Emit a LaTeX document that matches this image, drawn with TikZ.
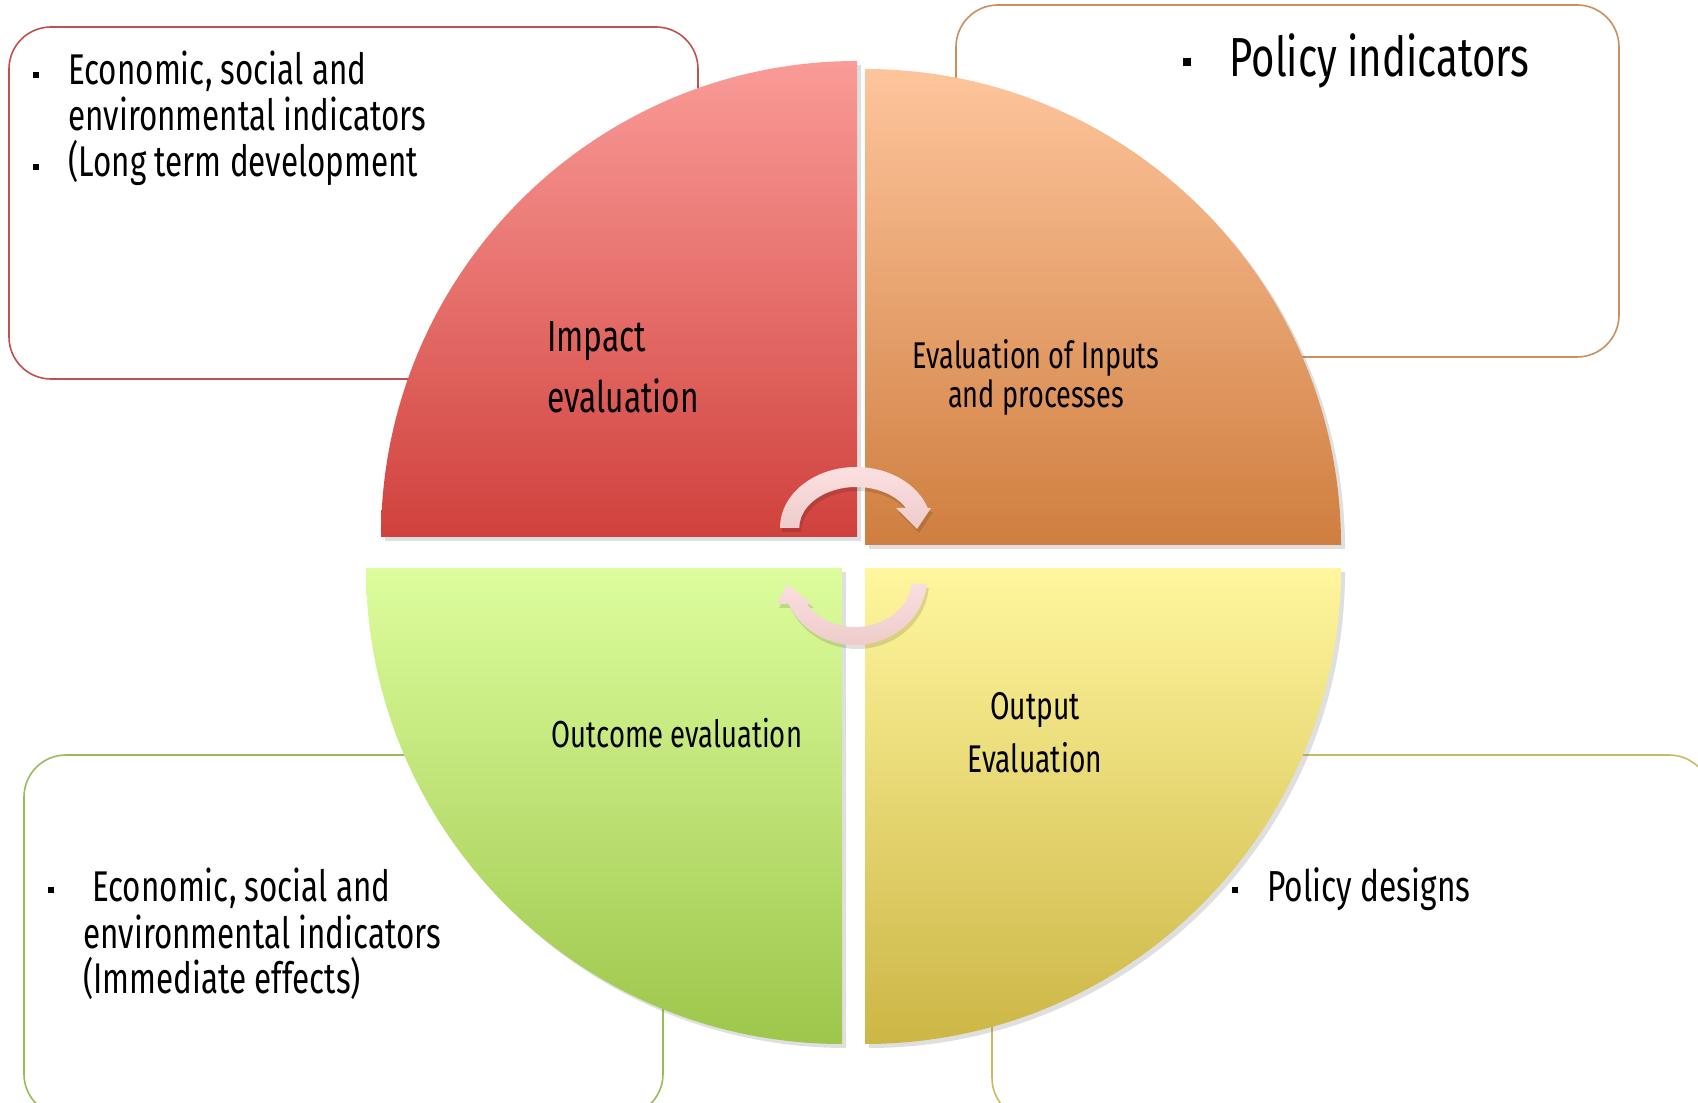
\documentclass[tikz,border=0pt]{standalone}
\usepackage{fontspec}
\setmainfont{Fira Sans}[FakeStretch=0.73]
\usetikzlibrary{shadows}

\definecolor{redline}{HTML}{C0504D}
\definecolor{orangeline}{HTML}{C98F5E}
\definecolor{greenline}{HTML}{9BBB59}
\definecolor{yellowline}{HTML}{C8BB62}
\definecolor{redtop}{HTML}{FA9B97}
\definecolor{redbot}{HTML}{D0413D}
\definecolor{orangetop}{HTML}{FEC59C}
\definecolor{orangebot}{HTML}{CF7E3F}
\definecolor{greentop}{HTML}{DDFD9D}
\definecolor{greenbot}{HTML}{9DC64B}
\definecolor{yellowtop}{HTML}{FFF69E}
\definecolor{yellowbot}{HTML}{CCB645}
\definecolor{turntop}{HTML}{FCE0E0}
\definecolor{turnbot}{HTML}{EECBCB}

\tikzset{
  box/.style={line width=0.8pt,fill=white,rounded corners=21pt},
  quarter/.style={drop shadow={shadow xshift=2pt,shadow yshift=-2pt,opacity=0.25}},
  turn/.style={top color=turntop,bottom color=turnbot,
    preaction={fill=black,opacity=0.12,
      transform canvas={shift={(1pt,-2pt)}}}},
  txt/.style={inner sep=0pt,anchor=base west},
  lbl/.style={inner sep=0pt,anchor=base},
  bul/.style={fill=black,minimum size=3pt,inner sep=0pt}
}

\begin{document}
\begin{tikzpicture}[x=0.5pt,y=0.5pt]
  %\draw[help lines](0,0) grid[step=100] (1698,1103);
  \useasboundingbox (0,0) rectangle (1698,1103);
  \clip (0,0) rectangle (1698,1103);

  \draw[box,draw=redline]    (9,724) rectangle (698,1076);
  \draw[box,draw=orangeline] (956,746) rectangle (1619,1098);
  \draw[box,draw=greenline]  (24,-13) rectangle (663,348);
  \draw[box,draw=yellowline] (992,-17) rectangle (1711,348);

  \shade[quarter,top color=redtop,bottom color=redbot]
    (857,566) -- (381,566) arc (180:90:476) -- cycle;
  \shade[quarter,top color=orangetop,bottom color=orangebot]
    (865,558) -- (865,1034) arc (90:0:476) -- cycle;
  \shade[quarter,top color=greentop,bottom color=greenbot]
    (842,535) -- (842,59) arc (270:180:476) -- cycle;
  \shade[quarter,top color=yellowtop,bottom color=yellowbot]
    (865,535) -- (1341,535) arc (0:-90:476) -- cycle;

  \shade[turn] (856,575) ++(180:76 and 61)
    arc[start angle=180,end angle=19.1,x radius=76,y radius=61]
    -- (931,595) -- (917,574) -- (896,595) -- (906,595)
    arc[start angle=29.2,end angle=180,x radius=57,y radius=41] -- cycle;
  \shade[turn] (855,525) ++(-5.1:72 and 67)
    arc[start angle=-5.1,end angle=-157.2,x radius=72,y radius=67]
    -- (777,499) -- (787,519) -- (812,499) -- (807,499)
    arc[start angle=-148,end angle=-7,x radius=57,y radius=49] -- cycle;

  \node[bul] (bulA) at (36,1028) {};
  \node[bul] (bulB) at (36,936) {};
  \node[txt,font=\fontsize{21.5}{23}\selectfont] (ecoA) at (68,1018) {Economic, social and};
  \node[txt,font=\fontsize{21.5}{23}\selectfont] (ecoB) at (68,972) {environmental indicators};
  \node[txt,font=\fontsize{21.5}{23}\selectfont] (ecoC) at (68,926) {(Long term development};

  \node[bul,minimum size=4pt] (bulC) at (1187,1041) {};
  \node[txt,font=\fontsize{27.5}{30}\selectfont] (polind) at (1229,1026) {Policy indicators};

  \node[bul] (bulD) at (1235,213) {};
  \node[txt,font=\fontsize{21.7}{23}\selectfont] (poldes) at (1267,201) {Policy designs};

  \node[bul] (bulE) at (51,213) {};
  \node[txt,font=\fontsize{21.5}{23}\selectfont] (immA) at (92,201) {Economic, social and};
  \node[txt,font=\fontsize{21.5}{23}\selectfont] (immB) at (83,154) {environmental indicators};
  \node[txt,font=\fontsize{21.5}{23}\selectfont] (immC) at (83,109) {(Immediate effects)};

  \node[txt,font=\fontsize{21.7}{23}\selectfont] (impA) at (547,751) {Impact};
  \node[txt,font=\fontsize{21.7}{23}\selectfont] (impB) at (547,690) {evaluation};

  \node[lbl,font=\fontsize{18.6}{21}\selectfont] (inpA) at (1036,734) {Evaluation of Inputs};
  \node[lbl,font=\fontsize{18.6}{21}\selectfont] (inpB) at (1036,695) {and processes};

  \node[lbl,font=\fontsize{18.8}{20}\selectfont] (outc) at (677,355) {Outcome evaluation};

  \node[lbl,font=\fontsize{19.3}{21}\selectfont] (outA) at (1035,383) {Output};
  \node[lbl,font=\fontsize{19.3}{21}\selectfont] (outB) at (1035,330) {Evaluation};
\end{tikzpicture}
\end{document}
